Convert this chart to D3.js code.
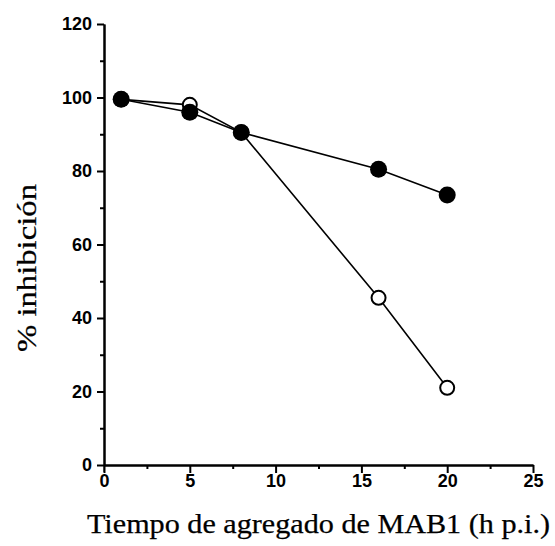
<!DOCTYPE html>
<html>
<head>
<meta charset="utf-8">
<script src="https://cdn.jsdelivr.net/npm/d3@7"></script>
<style>
  body { margin: 0; background: #fff; }
  .tick text { font-family: "Liberation Sans", Arial, sans-serif; font-weight: bold; font-size: 18px; }
  .title { font-family: "Liberation Serif", "Times New Roman", serif; font-size: 27px; stroke: #000; stroke-width: 0.25; }
</style>
</head>
<body>
<svg width="555" height="546"></svg>
<script>
// times (h p.i.)
const times = [1, 5, 8, 16, 20];
// % inhibition, filled circles
const filledSeries = [99.5, 96, 90.5, 80.5, 73.5];
// % inhibition, open circles
const openSeries = [99.5, 98, 90.5, 45.5, 21];
const xTicks = [0, 5, 10, 15, 20, 25];
const yTicks = [0, 20, 40, 60, 80, 100, 120];

const svg = d3.select('svg');

const x = d3.scaleLinear().domain([0, 25]).range([104, 533]);
const y = d3.scaleLinear().domain([0, 120]).range([465, 24]);

// x axis
const xAxis = svg.append('g').attr('transform', `translate(0, ${y(0)})`);
xAxis.call(d3.axisBottom(x).tickValues(xTicks).tickSize(8).tickPadding(1).tickSizeOuter(0));
xAxis.append('g').call(d3.axisBottom(x).tickValues(d3.range(2.5, 25, 5)).tickSize(4).tickFormat('').tickSizeOuter(0));

// y axis
const yAxis = svg.append('g').attr('transform', `translate(${x(0)}, 0)`);
yAxis.call(d3.axisLeft(y).tickValues(yTicks).tickSize(7).tickPadding(5).tickSizeOuter(0));
yAxis.append('g').call(d3.axisLeft(y).tickValues(d3.range(10, 120, 20)).tickSize(4).tickFormat('').tickSizeOuter(0));
// small extension of y axis below zero
yAxis.append('line').attr('x1', 0).attr('x2', 0).attr('y1', y(0)).attr('y2', y(0) + 7).attr('stroke', '#000');

svg.selectAll('.domain, .tick line').attr('stroke', '#000').attr('stroke-width', 2);
svg.selectAll('.tick text').attr('fill', '#000');

const line = d3.line().x((d, i) => x(times[i])).y(d => y(d));

svg.append('path').datum(openSeries).attr('d', line)
  .attr('fill', 'none').attr('stroke', '#000').attr('stroke-width', 1.6);
svg.append('path').datum(filledSeries).attr('d', line)
  .attr('fill', 'none').attr('stroke', '#000').attr('stroke-width', 1.6);

svg.selectAll('circle.open').data(openSeries).join('circle')
  .attr('class', 'open')
  .attr('cx', (d, i) => x(times[i])).attr('cy', d => y(d)).attr('r', 7)
  .attr('fill', '#fff').attr('stroke', '#000').attr('stroke-width', 2);

svg.selectAll('circle.filled').data(filledSeries).join('circle')
  .attr('class', 'filled')
  .attr('cx', (d, i) => x(times[i])).attr('cy', d => y(d)).attr('r', 8.5)
  .attr('fill', '#000');

// axis titles
svg.append('text')
  .attr('class', 'title')
  .attr('x', 87).attr('y', 533)
  .attr('textLength', 463).attr('lengthAdjust', 'spacingAndGlyphs')
  .text('Tiempo de agregado de MAB1 (h p.i.)');

svg.append('text')
  .attr('class', 'title')
  .attr('transform', 'translate(36, 352) rotate(-90)')
  .attr('textLength', 168).attr('lengthAdjust', 'spacingAndGlyphs')
  .text('% inhibición');
</script>
</body>
</html>
